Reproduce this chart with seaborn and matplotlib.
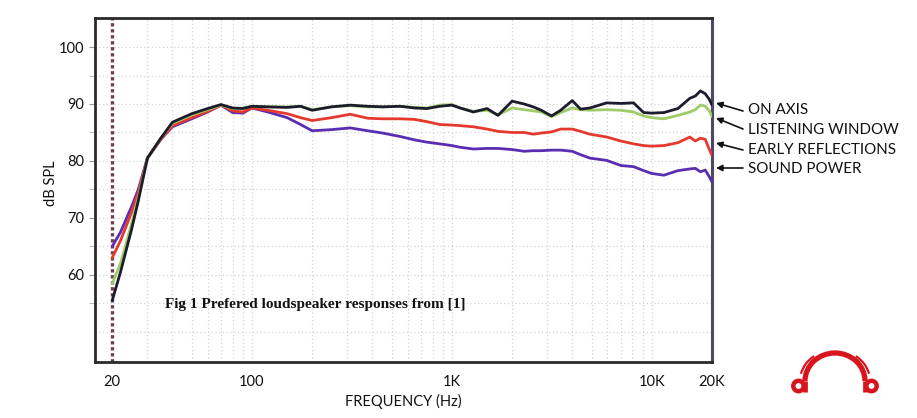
import numpy as np
import pandas as pd
import matplotlib
matplotlib.use("Agg")
import matplotlib.pyplot as plt
import seaborn as sns
from matplotlib.patches import Arc, Circle
from matplotlib.ticker import FixedLocator, NullFormatter, FixedFormatter

# ---------------- data ----------------
freq = [20, 22, 25, 27, 30, 35, 40, 50, 60, 70, 80, 90, 100, 120, 150,
        175, 200, 250, 310, 380, 450, 550, 650, 750, 870, 1000, 1100, 1280,
        1500, 1700, 2000, 2300, 2550, 2800, 3150, 3500, 4000, 4400, 4900,
        5950, 7000, 8100, 9100, 10000, 11500, 13500, 15500, 16500, 17500,
        18500, 19400, 20000]

on_axis = [55.5, 60.5, 68.0, 73.0, 80.5, 84.0, 86.8, 88.3, 89.2, 89.9,
           89.3, 89.2, 89.6, 89.5, 89.4, 89.6, 88.9, 89.5, 89.8, 89.6,
           89.5, 89.6, 89.3, 89.2, 89.6, 89.8, 89.3, 88.6, 89.2, 88.0,
           90.5, 90.0, 89.5, 88.9, 87.9, 88.9, 90.6, 89.1, 89.3, 90.2,
           90.1, 90.2, 88.5, 88.4, 88.5, 89.2, 91.0, 91.4, 92.3, 91.8,
           90.8, 89.8]

listening_window = [58.5, 62.0, 69.0, 73.5, 80.5, 84.0, 86.6, 88.1, 89.0, 89.8,
                    89.2, 89.3, 89.6, 89.5, 89.5, 89.6, 89.0, 89.5, 89.7, 89.5,
                    89.5, 89.6, 89.4, 89.3, 89.8, 89.9, 89.3, 88.7, 88.9, 88.1,
                    89.3, 89.0, 88.8, 88.6, 87.8, 88.5, 89.3, 89.0, 88.9, 89.0,
                    88.9, 88.6, 87.9, 87.6, 87.4, 88.0, 88.6, 89.0, 89.8, 89.6,
                    88.8, 87.8]

early_reflections = [63.0, 66.0, 71.0, 74.5, 80.5, 83.8, 86.2, 87.6, 88.7, 89.8,
                     88.8, 88.6, 89.3, 88.9, 88.3, 87.6, 87.1, 87.6, 88.2, 87.5,
                     87.4, 87.4, 87.3, 86.9, 86.4, 86.3, 86.2, 86.0, 85.6, 85.2,
                     85.0, 85.0, 84.7, 84.9, 85.1, 85.6, 85.6, 85.2, 84.7, 84.2,
                     83.5, 83.0, 82.7, 82.6, 82.7, 83.2, 84.2, 83.5, 84.0, 83.8,
                     82.0, 81.0]

sound_power = [65.0, 67.5, 72.0, 75.0, 80.5, 83.8, 86.0, 87.4, 88.6, 89.8,
               88.5, 88.4, 89.3, 88.6, 87.6, 86.4, 85.3, 85.5, 85.8, 85.3,
               84.9, 84.3, 83.7, 83.3, 83.0, 82.7, 82.4, 82.1, 82.2, 82.2,
               82.0, 81.7, 81.8, 81.8, 81.9, 81.9, 81.7, 81.1, 80.5, 80.1,
               79.2, 79.0, 78.3, 77.8, 77.5, 78.3, 78.6, 78.7, 78.1, 78.4,
               77.2, 76.3]

series_names = ["ON AXIS", "LISTENING WINDOW", "EARLY REFLECTIONS", "SOUND POWER"]
x_tick_values = [20, 100, 1000, 10000, 20000]
x_tick_labels = ["20", "100", "1K", "10K", "20K"]
y_tick_values = [60, 70, 80, 90, 100]
caption = "Fig 1 Prefered loudspeaker responses from [1]"

# ---------------- build table ----------------
values = {
    "ON AXIS": on_axis,
    "LISTENING WINDOW": listening_window,
    "EARLY REFLECTIONS": early_reflections,
    "SOUND POWER": sound_power,
}
df = pd.concat(
    [pd.DataFrame({"freq": freq, "spl": v, "curve": k}) for k, v in values.items()],
    ignore_index=True,
)

palette = {
    "ON AXIS": "#1c1c2c",
    "LISTENING WINDOW": "#9dcc68",
    "EARLY REFLECTIONS": "#e6392e",
    "SOUND POWER": "#5a2db2",
}

sns.set_style("white")
plt.rcParams["font.family"] = ["Lato", "DejaVu Sans"]

W, H = 917, 418
fig = plt.figure(figsize=(W / 100, H / 100), dpi=100)
ax = fig.add_axes([95 / W, 56 / H, 617 / W, 344 / H])

ax.set_xscale("log")
ax.set_xlim(16.4, 20000)
ax.set_ylim(44.7, 105.1)

# grid
minor_x = [30, 40, 50, 60, 70, 80, 90, 200, 300, 400, 500, 600, 700, 800, 900,
           2000, 3000, 4000, 5000, 6000, 7000, 8000, 9000]
grid_kw = dict(color="#d4d4d4", linestyle=(0, (1, 2)), linewidth=0.9)
for xv in minor_x + [100, 1000, 10000]:
    ax.axvline(xv, zorder=0, **grid_kw)
for yv in range(50, 105, 5):
    ax.axhline(yv, zorder=0, **grid_kw)

# 20 Hz marker line
ax.axvline(20, color="#6e4050", linestyle=(0, (1, 0.8)), linewidth=2.4, zorder=1)

sns.lineplot(
    data=df, x="freq", y="spl", hue="curve",
    hue_order=["SOUND POWER", "EARLY REFLECTIONS", "LISTENING WINDOW", "ON AXIS"],
    palette=palette, linewidth=2.0, legend=False, ax=ax, zorder=3,
)

ax.xaxis.set_major_locator(FixedLocator(x_tick_values))
ax.xaxis.set_major_formatter(FixedFormatter(x_tick_labels))
ax.xaxis.set_minor_locator(FixedLocator([]))
ax.xaxis.set_minor_formatter(NullFormatter())
ax.yaxis.set_major_locator(FixedLocator(y_tick_values))
ax.yaxis.set_minor_locator(FixedLocator([55, 65, 75, 85, 95]))

ax.tick_params(axis="x", which="major", length=0, pad=9, labelsize=10.5, labelcolor="#111111")
ax.tick_params(axis="y", which="major", length=4, width=0.8, color="#999999",
               pad=4, labelsize=10.5, labelcolor="#111111", left=True)
ax.tick_params(axis="y", which="minor", length=4, width=0.8, color="#bbbbbb", left=True)

ax.set_xlabel("FREQUENCY (Hz)", fontsize=10.5, labelpad=4, color="#111111")
ax.set_ylabel("dB SPL", fontsize=10.5, color="#111111")
ax.yaxis.set_label_coords(-0.06, 0.52)

for side in ["left", "top", "bottom"]:
    ax.spines[side].set_color("#2a2a2a")
    ax.spines[side].set_linewidth(2.0)
ax.spines["right"].set_color("#4e4866")
ax.spines["right"].set_linewidth(2.2)

ax.text(0.1135, 0.166, caption, transform=ax.transAxes, fontsize=11,
        fontweight="bold", family=["Liberation Serif", "DejaVu Serif"],
        va="center", ha="left", color="#111111")

# right-hand labels with arrows (figure pixel coordinates, y up)
labels_pos = [
    ("ON AXIS", 308, (716, 315), (743, 307)),
    ("LISTENING WINDOW", 288, (716, 300), (743, 289)),
    ("EARLY REFLECTIONS", 268, (716, 275), (743, 268)),
    ("SOUND POWER", 249, (716, 250), (743, 250)),
]
for name, ty, tip, tail in labels_pos:
    fig.text(748 / W, ty / H, name, fontsize=10.9, va="center", ha="left",
             color="#111111")
    ax.annotate("", xy=tip, xycoords="figure pixels", xytext=tail,
                textcoords="figure pixels", annotation_clip=False,
                arrowprops=dict(arrowstyle="-|>", color="#111111", lw=1.2,
                                mutation_scale=9, shrinkA=0, shrinkB=0))

# logo (headphones), drawn in figure-pixel units (y up)
lax = fig.add_axes([786 / W, 14 / H, 100 / W, 56 / H])
lax.set_xlim(786, 886)
lax.set_ylim(14, 70)
lax.set_aspect("equal")
lax.axis("off")
red = "#d8141f"
lax.add_patch(Arc((835, 37), 60, 56, theta1=0, theta2=180, lw=3.8, color=red))
lax.add_patch(Arc((835, 37), 70, 62, theta1=130, theta2=168, lw=1.6, color=red))
lax.add_patch(Arc((835, 37), 70, 62, theta1=12, theta2=50, lw=1.6, color=red))
lax.plot([805, 805], [26, 37], color=red, lw=3.4, solid_capstyle="butt")
lax.plot([865, 865], [26, 37], color=red, lw=3.4, solid_capstyle="butt")
lax.add_patch(Circle((798.5, 32), 5.2, fill=False, lw=3.2, color=red))
lax.add_patch(Circle((871.5, 32), 5.2, fill=False, lw=3.2, color=red))

fig.savefig("out.png", dpi=100)
